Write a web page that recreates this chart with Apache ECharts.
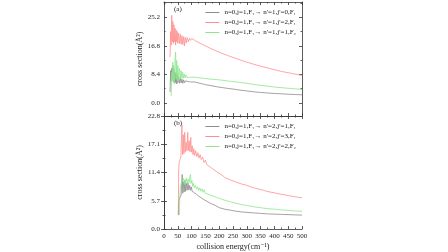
<!DOCTYPE html>
<html>
<head>
<meta charset="utf-8">
<script src="https://cdn.jsdelivr.net/npm/echarts@6/dist/echarts.min.js"></script>
<style>
  html, body { margin: 0; padding: 0; background: #fff; }
  #chart { width: 448px; height: 252px; }
</style>
</head>
<body>
<div id="chart"></div>
<script>
// panel (a): n'=1 channels
const aGrayX = [22,24,26,28,30,32,34,36,38,40,42,44,46,48,50,53,56,59,62,65,68,71,74,77,80,84,88,92,96,100,110,120,130,140,150,170,190,210,230,250,275,300,325,350,375,400,425,450,475,500];
const aGrayY = [3.2,9.5,6.5,10.2,7.0,11.0,6.2,9.8,5.8,9.0,6.0,8.6,5.6,8.2,6.0,7.8,5.8,7.4,5.9,7.0,5.8,6.8,5.9,6.5,6.2,6.6,6.3,6.5,6.2,6.3,6.2,6.0,5.8,5.6,5.4,5.1,4.8,4.55,4.3,4.1,3.8,3.55,3.3,3.1,2.95,2.8,2.7,2.6,2.5,2.4];

const aRedX = [22,24,26,28,30,32,34,36,38,40,42,44,46,48,50,53,56,59,62,65,68,71,74,77,80,84,88,92,96,100,105,110,120,130,140,150,170,190,210,230,250,275,300,325,350,375,400,425,450,475,500];
const aRedY = [13.5,21.0,17.0,25.8,18.0,24.0,17.5,23.0,18.0,22.0,17.0,21.5,18.0,21.0,17.5,20.5,17.5,20.2,17.3,19.8,17.2,19.5,16.8,19.3,17.6,19.2,18.0,19.0,18.4,19.0,18.8,18.5,18.0,17.6,17.2,16.8,16.0,15.3,14.6,14.0,13.4,12.7,12.0,11.4,10.8,10.3,9.8,9.3,8.9,8.5,8.1];

const aGreenX = [26,28,30,32,34,36,38,40,42,44,46,48,50,53,56,59,62,65,68,71,74,77,80,84,88,92,96,100,110,130,150,170,190,210,240,270,300,330,360,400,440,470,500];
const aGreenY = [2.0,9.0,6.5,12.0,6.0,10.5,5.8,13.0,15.0,7.0,12.5,6.5,11.0,6.8,10.2,7.0,9.5,7.2,9.0,7.3,8.5,7.4,8.2,7.5,7.9,7.6,7.8,7.6,7.6,7.4,7.2,7.0,6.9,6.7,6.4,6.1,5.8,5.4,5.1,4.7,4.4,4.2,4.0];

// panel (b): n'=2 channels
const bGrayX = [52,53,56,59,62,64,66,68,71,73,76,78,81,84,87,90,93,96,99,102,106,110,114,118,122,126,130,135,140,145,150,155,160,165,170,175,180,185,190,200,220,240,260,280,300,325,350,375,400,425,450,475,500];
const bGrayY = [2.8,5.5,6.2,6.5,6.8,7.0,11.0,7.2,9.5,7.5,9.8,7.6,9.2,7.8,9.3,7.9,8.8,7.8,8.5,7.6,8.0,7.3,7.6,7.0,7.2,6.6,6.8,6.3,6.4,5.9,6.0,5.6,5.7,5.3,5.4,5.0,5.1,4.8,4.8,4.3,4.0,3.8,3.6,3.45,3.35,3.25,3.15,3.05,3.0,2.95,2.9,2.85,2.8];

const bRedX = [52,53,55,58,61,64,65,67,70,72,75,77,80,83,86,88,91,94,97,99,102,105,108,111,115,119,123,127,131,135,140,145,150,155,160,165,170,175,180,185,190,195,200,210,220,240,260,280,300,320,340,360,380,400,425,450,475,500];
const bRedY = [3.0,12.0,13.5,14.0,14.5,14.8,21.0,15.0,19.0,15.2,19.5,15.5,17.5,15.8,19.5,15.8,17.8,15.6,18.5,15.5,16.8,15.0,16.2,14.8,15.8,14.6,15.4,14.3,15.0,14.0,14.5,13.4,13.9,13.0,13.4,12.6,12.9,12.2,12.5,11.8,12.0,11.4,11.2,10.9,10.4,9.9,9.5,9.1,8.8,8.4,8.1,7.8,7.5,7.3,7.0,6.75,6.5,6.3];

const bGreenX = [56,57,59,62,65,68,70,73,76,79,82,85,88,91,94,96,98,101,104,107,110,114,118,122,126,130,134,138,142,146,150,155,160,165,170,175,180,185,190,200,220,240,260,280,300,325,350,375,400,425,450,475,500];
const bGreenY = [2.8,6.0,8.5,9.2,9.5,8.8,10.2,9.0,10.0,9.2,10.3,9.3,10.0,9.4,10.5,11.0,9.2,9.8,8.6,9.2,8.3,8.8,8.0,8.5,7.8,8.3,7.6,8.1,7.4,7.9,7.2,7.6,7.0,7.3,6.8,7.0,6.6,6.7,6.4,6.2,5.8,5.5,5.2,4.95,4.75,4.5,4.3,4.1,4.0,3.85,3.75,3.65,3.55];

const namesA = ["n=0,j=1,F\u2081\u2192 n'=1,j'=0,F\u2081", "n=0,j=1,F\u2081\u2192 n'=1,j'=2,F\u2081", "n=0,j=1,F\u2081\u2192 n'=1,j'=1,F\u2082"];
const namesB = ["n=0,j=1,F\u2081\u2192 n'=2,j'=1,F\u2081", "n=0,j=1,F\u2081\u2192 n'=2,j'=3,F\u2081", "n=0,j=1,F\u2081\u2192 n'=2,j'=2,F\u2082"];
const yTicksA = [0, 8.4, 16.8, 25.2];
const yMinorA = [4.2, 12.6, 21.0, 29.4];

const colors = ['#8c8c8c', '#ff8f8f', '#8de68d'];
const FONT = "'Liberation Serif', 'DejaVu Serif', serif";
const lineCol = '#333';

function pairs(xs, ys) { return xs.map((x, i) => [x, ys[i]]); }

function xAx(grid, pos, showLabel) {
    return {
        type: 'value', gridIndex: grid, position: pos, min: 0, max: 500, interval: 50,
        axisLine: { show: true, onZero: false, lineStyle: { color: lineCol, width: 0.8 } },
        axisTick: { show: true, inside: true, length: 3, lineStyle: { color: lineCol, width: 0.8 } },
        minorTick: { show: true, splitNumber: 2, length: 1.5, lineStyle: { color: lineCol, width: 0.8 } },
        axisLabel: { show: showLabel, fontFamily: FONT, fontSize: 7, color: '#222', margin: 4 },
        splitLine: { show: false }
    };
}

function legendAt(names, top) {
    return {
        data: names, orient: 'vertical', right: 147, top: top, itemGap: 3,
        icon: 'rect', itemWidth: 14, itemHeight: 1,
        textStyle: { fontFamily: FONT, fontSize: 7, color: '#222' }
    };
}

const chart = echarts.init(document.getElementById('chart'));

const option = {
    backgroundColor: '#fff',
    animation: false,
    grid: [
        { left: 164, right: 146, top: 2, height: 114 },
        { left: 164, right: 146, top: 116, height: 114.7 }
    ],
    xAxis: [
        xAx(0, 'bottom', false),
        xAx(0, 'top', false),
        Object.assign(xAx(1, 'bottom', true), {
            name: 'collision energy(cm\u207B\u00B9)', nameLocation: 'middle', nameGap: 14,
            nameTextStyle: { fontFamily: FONT, fontSize: 8, color: '#222' }
        }),
        xAx(1, 'top', false)
    ],
    yAxis: [
        {
            type: 'value', gridIndex: 0, position: 'left', min: -3.82, max: 29.7,
            name: 'cross section(\u00C5\u00B2)', nameLocation: 'middle', nameGap: 19,
            nameTextStyle: { fontFamily: FONT, fontSize: 8, color: '#222' },
            axisLine: { show: true, lineStyle: { color: lineCol, width: 0.8 } },
            axisTick: { show: true, inside: true, length: 3, customValues: yTicksA, lineStyle: { color: lineCol, width: 0.8 } },
            axisLabel: { customValues: yTicksA, fontFamily: FONT, fontSize: 7, color: '#222', margin: 4, formatter: v => v.toFixed(1) },
            splitLine: { show: false }
        },
        {
            type: 'value', gridIndex: 0, position: 'left', min: -3.82, max: 29.7,
            axisLine: { show: false },
            axisTick: { show: true, inside: true, length: 1.5, customValues: yMinorA, lineStyle: { color: lineCol, width: 0.8 } },
            axisLabel: { show: false }, splitLine: { show: false }
        },
        {
            type: 'value', gridIndex: 0, position: 'right', min: -3.82, max: 29.7,
            axisLine: { show: true, lineStyle: { color: lineCol, width: 0.8 } },
            axisTick: { show: true, inside: true, length: 3, customValues: yTicksA, lineStyle: { color: lineCol, width: 0.8 } },
            axisLabel: { show: false }, splitLine: { show: false }
        },
        {
            type: 'value', gridIndex: 0, position: 'right', min: -3.82, max: 29.7,
            axisLine: { show: false },
            axisTick: { show: true, inside: true, length: 1.5, customValues: yMinorA, lineStyle: { color: lineCol, width: 0.8 } },
            axisLabel: { show: false }, splitLine: { show: false }
        },
        {
            type: 'value', gridIndex: 1, position: 'left', min: 0, max: 22.8, interval: 5.7,
            name: 'cross section(\u00C5\u00B2)', nameLocation: 'middle', nameGap: 19,
            nameTextStyle: { fontFamily: FONT, fontSize: 8, color: '#222' },
            axisLine: { show: true, lineStyle: { color: lineCol, width: 0.8 } },
            axisTick: { show: true, inside: true, length: 3, lineStyle: { color: lineCol, width: 0.8 } },
            minorTick: { show: true, splitNumber: 2, length: 1.5, lineStyle: { color: lineCol, width: 0.8 } },
            axisLabel: { fontFamily: FONT, fontSize: 7, color: '#222', margin: 4, formatter: v => v.toFixed(1) },
            splitLine: { show: false }
        },
        {
            type: 'value', gridIndex: 1, position: 'right', min: 0, max: 22.8, interval: 5.7,
            axisLine: { show: true, lineStyle: { color: lineCol, width: 0.8 } },
            axisTick: { show: true, inside: true, length: 3, lineStyle: { color: lineCol, width: 0.8 } },
            minorTick: { show: true, splitNumber: 2, length: 1.5, lineStyle: { color: lineCol, width: 0.8 } },
            axisLabel: { show: false }, splitLine: { show: false }
        }
    ],
    legend: [legendAt(namesA, 4), legendAt(namesB, 118)],
    graphic: [
        { type: 'text', left: 174, top: 6, style: { text: '(a)', font: "7px " + FONT, fill: '#222' } },
        { type: 'text', left: 174, top: 120, style: { text: '(b)', font: "7px " + FONT, fill: '#222' } }
    ],
    series: [
        { name: namesA[0], data: pairs(aGrayX, aGrayY), xAxisIndex: 0, yAxisIndex: 0, color: colors[0] },
        { name: namesA[1], data: pairs(aRedX, aRedY), xAxisIndex: 0, yAxisIndex: 0, color: colors[1] },
        { name: namesA[2], data: pairs(aGreenX, aGreenY), xAxisIndex: 0, yAxisIndex: 0, color: colors[2] },
        { name: namesB[0], data: pairs(bGrayX, bGrayY), xAxisIndex: 2, yAxisIndex: 4, color: colors[0] },
        { name: namesB[1], data: pairs(bRedX, bRedY), xAxisIndex: 2, yAxisIndex: 4, color: colors[1] },
        { name: namesB[2], data: pairs(bGreenX, bGreenY), xAxisIndex: 2, yAxisIndex: 4, color: colors[2] }
    ].map(s => Object.assign({
        type: 'line', symbol: 'none', showSymbol: false,
        lineStyle: { width: 0.8 }
    }, s))
};

chart.setOption(option);
</script>
</body>
</html>
